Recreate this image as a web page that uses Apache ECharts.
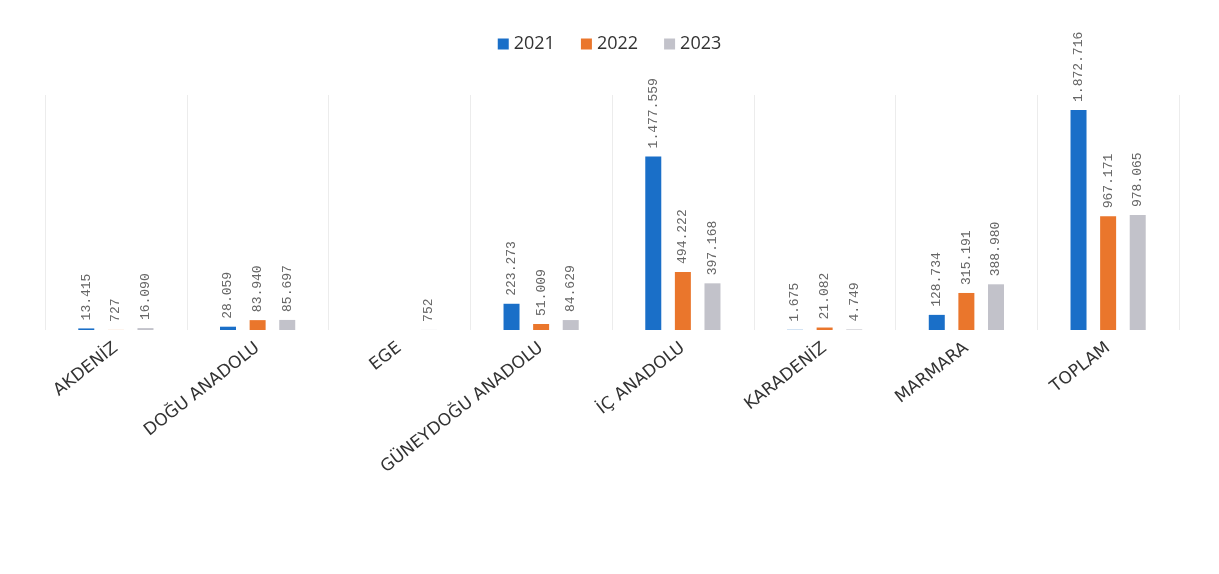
<!DOCTYPE html>
<html><head><meta charset="utf-8">
<script src="https://cdn.jsdelivr.net/npm/echarts@6/dist/echarts.min.js"></script>
<style>html,body{margin:0;padding:0;background:#fff}#c{width:1219px;height:574px}</style>
</head><body><div id="c"></div>
<script>
const categories = ['AKDENİZ','DOĞU ANADOLU','EGE','GÜNEYDOĞU ANADOLU','İÇ ANADOLU','KARADENİZ','MARMARA','TOPLAM'];
const seriesNames = ['2021','2022','2023'];
const values2021 = [13415, 28059, null, 223273, 1477559, 1675, 128734, 1872716];
const values2022 = [727, 83940, null, 51009, 494222, 21082, 315191, 967171];
const values2023 = [16090, 85697, 752, 84629, 397168, 4749, 388980, 978065];
const colors = ['#1a6fc8', '#ea762c', '#c2c2ca'];

function fmt(v){ return String(v).replace(/\B(?=(\d{3})+(?!\d))/g, '.'); }
const all = [values2021, values2022, values2023];
const chart = echarts.init(document.getElementById('c'));
chart.setOption({
  animation:false,
  legend:{top:30,left:'center',itemWidth:11,itemHeight:11,itemGap:26,icon:'rect',
    textStyle:{fontSize:18,color:'#333',fontFamily:'Open Sans'}},
  grid:{left:45,right:40,top:95,bottom:244,containLabel:false},
  xAxis:{type:'category',data:categories,
    axisLine:{show:false},axisTick:{show:false},
    splitLine:{show:true,lineStyle:{color:'#ececec',width:1}},
    axisLabel:{rotate:38,interval:0,fontSize:17,color:'#333',margin:16,fontFamily:'DejaVu Sans'}},
  yAxis:{type:'value',min:0,max:2000000,show:false,splitLine:{show:false}},
  series: seriesNames.map((n,i)=>({
    name:n,type:'bar',data:all[i],barWidth:16,barGap:'85%',
    itemStyle:{color:colors[i]},
    label:{show:true,position:'top',rotate:90,align:'left',verticalAlign:'middle',distance:8,
      fontSize:13,color:'#666',fontFamily:'Liberation Mono',
      formatter:p=>p.value==null?'':fmt(p.value)}
  }))
});
</script></body></html>
